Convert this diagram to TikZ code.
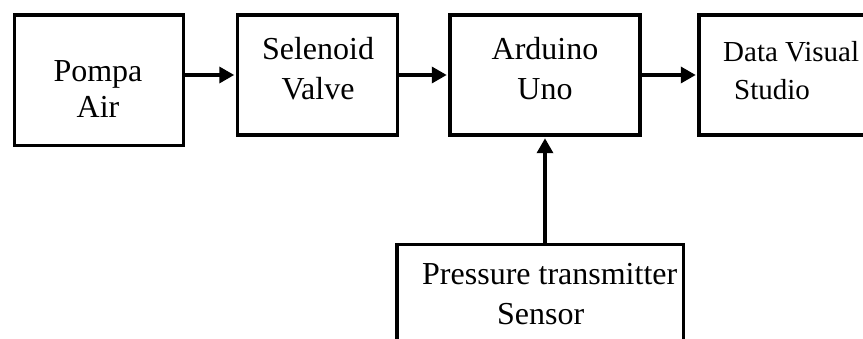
\documentclass[tikz,border=0pt]{standalone}
\usepackage{fontspec}
\setmainfont{Liberation Serif}
\usetikzlibrary{arrows.meta}
\begin{document}
\begin{tikzpicture}[x=1pt,y=1pt,
  blockbox/.style={draw=black,line width=3.5pt,rectangle,inner sep=0pt,fill=none},
  lbl/.style={inner sep=0pt,font=\fontsize{32}{38}\selectfont},
  lblsmall/.style={inner sep=0pt,font=\fontsize{29}{36}\selectfont},
  conn/.style={line width=3.5pt,-{Triangle[length=15pt,width=16pt]},shorten >=1.5pt}]
\useasboundingbox (0,0) rectangle (863,339);
\clip (0,0) rectangle (863,339);
\node[blockbox,minimum width=169pt,minimum height=130.5pt] (b1) at (99,258.75) {};
\node[blockbox,minimum width=160pt,minimum height=120pt] (b2) at (317.5,264) {};
\node[blockbox,minimum width=190pt,minimum height=120pt] (b3) at (545,264) {};
\node[blockbox,minimum width=181pt,minimum height=120pt] (b4) at (789.5,264) {};
\node[blockbox,minimum width=286.5pt,minimum height=115.5pt] (b5) at (540.25,36.75) {};
% texts
\node[lbl,anchor=base] (t1a) at (98,257) {Pompa};
\node[lbl,anchor=base] (t1b) at (98,221) {Air};
\node[lbl,anchor=base] (t2a) at (318,279) {Selenoid};
\node[lbl,anchor=base] (t2b) at (318,239) {Valve};
\node[lbl,anchor=base] (t3a) at (545,279) {Arduino};
\node[lbl,anchor=base] (t3b) at (545,239) {Uno};
\node[lblsmall,anchor=base west] (t4a) at (723,277) {Data Visual};
\node[lblsmall,anchor=base west] (t4b) at (734,239) {Studio};
\node[lbl,anchor=base west] (t5a) at (422,54) {Pressure transmitter};
\node[lbl,anchor=base west] (t5b) at (497,14) {Sensor};
% connectors
\draw[conn] (b1.east |- b2.west) -- (b2.west);
\draw[conn] (b2.east) -- (b3.west);
\draw[conn] (b3.east) -- (b4.west);
\draw[conn] (b5.north -| b3.south) -- (b3.south);
\end{tikzpicture}
\end{document}
